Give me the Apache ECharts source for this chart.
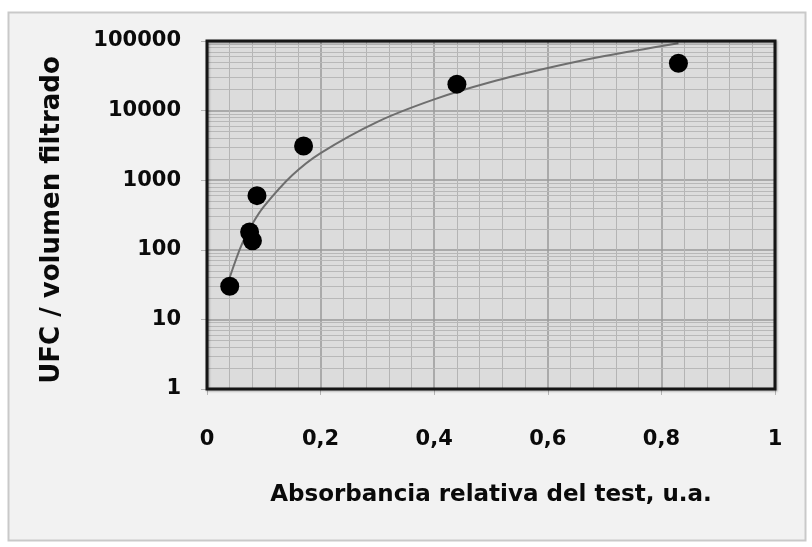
<!DOCTYPE html>
<html>
<head>
<meta charset="utf-8">
<script src="https://cdn.jsdelivr.net/npm/echarts@6/dist/echarts.min.js"></script>
<style>
html,body{margin:0;padding:0;background:#ffffff;}
#chart{width:812px;height:547px;}
</style>
</head>
<body>
<div id="chart"></div>
<script>
// Measured points (absorbance, UFC / volume)
const absorbance = [0.04, 0.075, 0.08, 0.088, 0.17, 0.44, 0.83];
const ufc = [30, 180, 135, 600, 3100, 24000, 48000];
// Trend line
const trendX = [0.04, 0.06, 0.08, 0.1, 0.15, 0.2, 0.3, 0.4, 0.5, 0.6, 0.7, 0.83];
const trendY = [40, 113, 236, 417, 1175, 2450, 6900, 14500, 25700, 40800, 60700, 93000];
// Axis ticks
const xTicks = [0, 0.2, 0.4, 0.6, 0.8, 1];
const yTicks = [1, 10, 100, 1000, 10000, 100000];
// Minor horizontal (log) grid lines
const yMinor = [];
[1, 10, 100, 1000, 10000].forEach(d => { [2,3,4,5,6,7,8,9].forEach(m => yMinor.push(d*m)); });

const labelFont = '"DejaVu Sans", "Liberation Sans", Arial, sans-serif';
const G = {left: 207, top: 41, width: 568, height: 348};
const chart = echarts.init(document.getElementById('chart'), null, {renderer: 'canvas'});
chart.setOption({
  backgroundColor: '#ffffff',
  animation: false,
  graphic: [{
    type: 'rect', z: -10,
    shape: {x: 8.5, y: 12.5, width: 797, height: 528},
    style: {fill: '#f2f2f2', stroke: '#c9c9c9', lineWidth: 2}
  }, {
    type: 'rect', z: 100,
    shape: {x: G.left, y: G.top, width: G.width, height: G.height},
    style: {fill: null, stroke: '#151515', lineWidth: 3,
      shadowColor: 'rgba(0,0,0,0.3)', shadowBlur: 2, shadowOffsetX: 1, shadowOffsetY: 1}
  }],
  grid: {
    left: G.left, top: G.top, width: G.width, height: G.height,
    show: true, backgroundColor: '#dcdcdc', borderWidth: 0
  },
  xAxis: {
    type: 'value', min: 0, max: 1, interval: 0.2,
    axisLine: {show: false},
    axisTick: {show: true, length: 6, lineStyle: {color: '#b5b5b5', width: 1}},
    minorTick: {show: false, splitNumber: 5},
    splitLine: {show: true, lineStyle: {color: '#9a9a9a', width: 1.5}},
    minorSplitLine: {show: true, lineStyle: {color: '#b4b4b4', width: 1}},
    axisLabel: {
      margin: 40, color: '#0a0a0a', fontFamily: labelFont, fontWeight: 'bold', fontSize: 21,
      formatter: v => String(v).replace('.', ',')
    },
    name: 'Absorbancia relativa del test, u.a.',
    nameLocation: 'middle', nameGap: 95,
    nameTextStyle: {color: '#0a0a0a', fontFamily: labelFont, fontWeight: 'bold', fontSize: 23}
  },
  yAxis: {
    type: 'log', logBase: 10, min: 1, max: 100000,
    axisLine: {show: false},
    axisTick: {show: true, length: 6, lineStyle: {color: '#b5b5b5', width: 1}},
    splitLine: {show: true, lineStyle: {color: '#9a9a9a', width: 1.5}},
    axisLabel: {
      margin: 26, color: '#0a0a0a', fontFamily: labelFont, fontWeight: 'bold', fontSize: 21,
      formatter: v => String(Math.round(v))
    },
    name: 'UFC / volumen filtrado',
    nameLocation: 'middle', nameGap: 142, nameRotate: 90,
    nameTextStyle: {color: '#0a0a0a', fontFamily: labelFont, fontWeight: 'bold', fontSize: 26, padding: [0, 10, 0, 0]}
  },
  series: [
    {
      type: 'line', name: 'grid', data: [], silent: true, z: 1,
      markLine: {
        silent: true, symbol: 'none', animation: false,
        label: {show: false},
        lineStyle: {color: '#b8b8b8', width: 1, type: 'solid'},
        data: yMinor.map(v => ({yAxis: v}))
      }
    },
    {
      type: 'line', name: 'trend', smooth: 0.3, symbol: 'none', silent: true,
      lineStyle: {color: '#6e6e6e', width: 2, type: 'solid', opacity: 1},
      data: trendX.map((x, i) => [x, trendY[i]]), z: 10
    },
    {
      type: 'scatter', name: 'data', symbol: 'circle', symbolSize: 19,
      itemStyle: {color: '#000000', opacity: 1},
      data: absorbance.map((x, i) => [x, ufc[i]]), z: 11
    }
  ]
});
</script>
</body>
</html>
